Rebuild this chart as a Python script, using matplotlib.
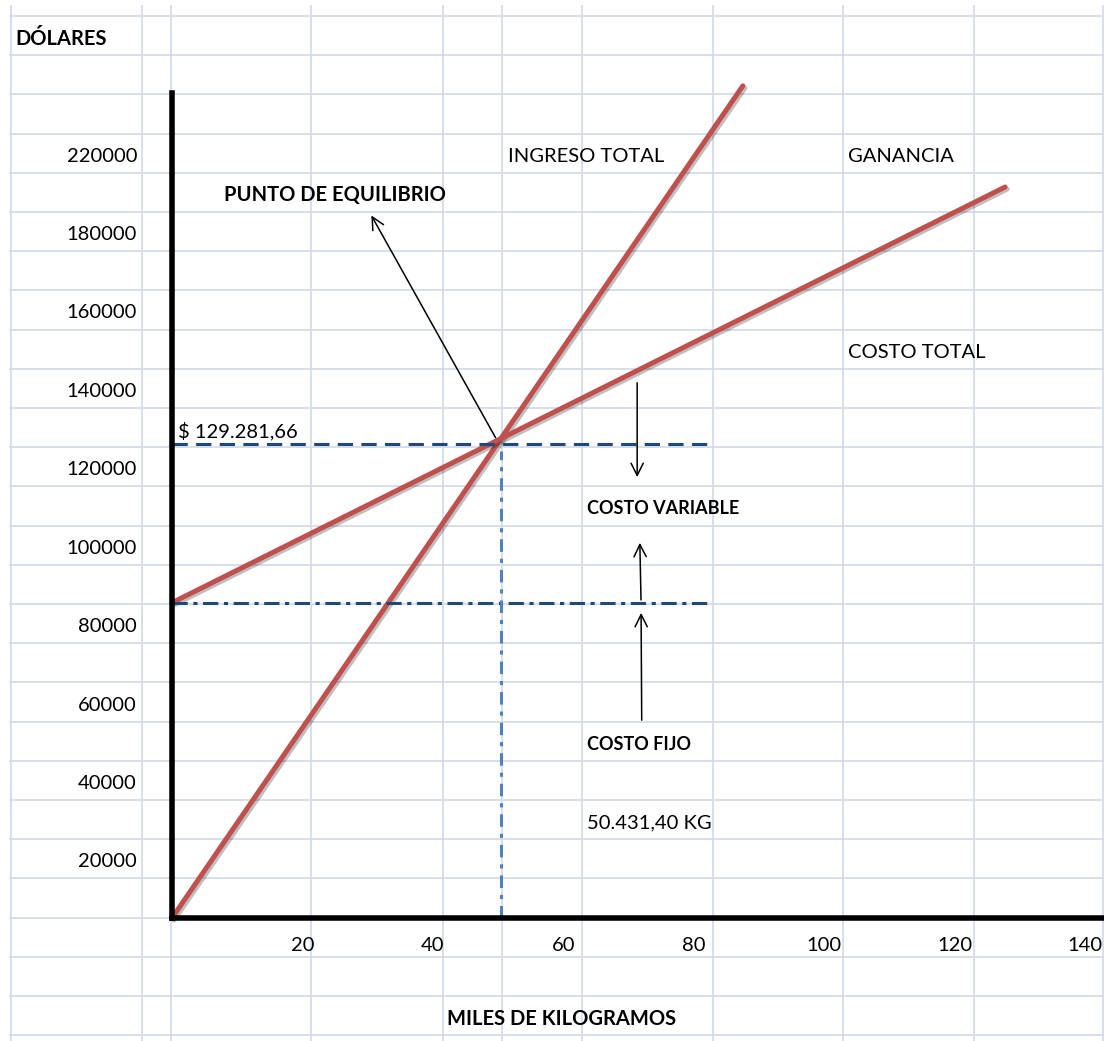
import matplotlib
matplotlib.use('Agg')
import matplotlib.pyplot as plt
import matplotlib.patheffects as pe

plt.rcParams['font.family'] = ['Lato', 'DejaVu Sans']
plt.rcParams['lines.scale_dashes'] = False

# datos: x en miles de kg, y en dolares
ingreso_x = [0, 87.5]
ingreso_y = [0, 227000]
costo_x = [0, 127.7]
costo_y = [86000, 199400]
pe_x = 50.4314
pe_y = 129281.66
costo_fijo = 86000
linea_fin_x = 82.5

x_ticks = [20, 40, 60, 80, 100, 120, 140]
y_labels = ['220000', '180000', '160000', '140000', '120000',
            '100000', '80000', '60000', '40000', '20000']
y_filas = [3, 5, 7, 9, 11, 13, 15, 17, 19, 21]

# hoja de calculo (pixeles)
W, H = 1104, 1041
cols = [11, 142, 171, 311, 443, 502, 582, 713, 843, 974, 1103]
fila0 = 16
fila_h = 39.2

def fila(r):
    return fila0 + fila_h * r + fila_h / 2 + 3

fig = plt.figure(figsize=(W / 100, H / 100), dpi=100)
hoja = fig.add_axes([0, 0, 1, 1])
hoja.set_xlim(0, W)
hoja.set_ylim(H, 0)
hoja.axis('off')

grid_c = '#D4DBE8'
for c in cols:
    hoja.plot([c, c], [6, H], color=grid_c, lw=1.3)
for r in range(27):
    y = fila0 + fila_h * r
    hoja.plot([10, W], [y, y], color=grid_c, lw=1.3)

fs = 14.5
for lab, r in zip(y_labels, y_filas):
    hoja.text(137, fila(r), lab, ha='right', va='center', fontsize=fs)

hoja.text(15, fila(0), 'DÓLARES', fontsize=fs, fontweight='bold', va='center')
hoja.text(508, fila(3), 'INGRESO TOTAL', fontsize=fs, va='center')
hoja.text(848, fila(3), 'GANANCIA', fontsize=fs, va='center')
hoja.text(224, fila(4), 'PUNTO DE EQUILIBRIO', fontsize=fs, fontweight='bold', va='center')
hoja.text(848, fila(8), 'COSTO TOTAL', fontsize=fs, va='center')
hoja.text(178, fila(10), '$ 129.281,66', fontsize=fs, va='center')
hoja.text(587, fila(12), 'COSTO VARIABLE', fontsize=13, fontweight='bold', va='center')
hoja.text(587, fila(18), 'COSTO FIJO', fontsize=13, fontweight='bold', va='center')
hoja.text(587, fila(20), '50.431,40 KG', fontsize=fs, va='center')
hoja.text(447, fila(25), 'MILES DE KILOGRAMOS', fontsize=fs, fontweight='bold', va='center')

# grafico
x0, y0 = 172, 918
px_x = 6.524
px_y = 0.003666
ax = fig.add_axes([x0 / W, (H - y0) / H, (W - x0) / W, (y0 - 93) / H])
ax.patch.set_alpha(0)
ax.set_xlim(0, (W - x0) / px_x)
ax.set_ylim(0, (y0 - 93) / px_y)
for s in ['top', 'right']:
    ax.spines[s].set_visible(False)
for s in ['left', 'bottom']:
    ax.spines[s].set_linewidth(4)
    ax.spines[s].set_color('black')
    ax.spines[s].set_capstyle('projecting')
ax.set_yticks([])
ax.set_xticks(x_ticks)
ax.tick_params(axis='x', length=0, pad=14, labelsize=fs)

sombra = [pe.SimpleLineShadow(offset=(1.5, -1.5), alpha=0.25), pe.Normal()]
rojo = '#C0504D'
ax.plot(ingreso_x, ingreso_y, color=rojo, lw=3.6, solid_capstyle='round',
        clip_on=False, path_effects=sombra)
ax.plot(costo_x, costo_y, color=rojo, lw=3.6, solid_capstyle='round',
        clip_on=False, path_effects=sombra)

ax.plot([0, linea_fin_x], [pe_y, pe_y], color='#1F497D', lw=2.2, dashes=(11, 6))
ax.plot([0, linea_fin_x], [costo_fijo, costo_fijo], color='#1F497D', lw=2.2,
        dashes=(11, 4, 3, 4))
ax.plot([pe_x, pe_x], [0, pe_y - 2000], color='#4F81BD', lw=2.2,
        dashes=(9, 5, 3, 5))

flecha = dict(arrowstyle='->', lw=1.1, color='black', mutation_scale=22)
ax.annotate('', xy=(30.35, 192300), xytext=(49.8, 130370), arrowprops=flecha)
ax.annotate('', xy=(71.3, 119500), xytext=(71.3, 146750), arrowprops=flecha)
ax.annotate('', xy=(71.7, 103100), xytext=(71.9, 86000), arrowprops=flecha)
ax.annotate('', xy=(71.9, 84000), xytext=(72.0, 53200), arrowprops=flecha)

plt.savefig('out.png', dpi=100)
